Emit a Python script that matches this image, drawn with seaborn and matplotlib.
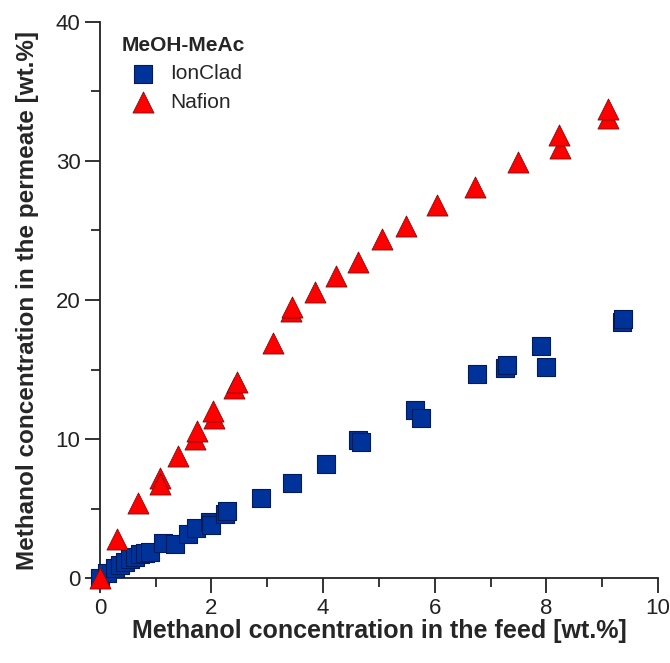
import matplotlib
matplotlib.use("Agg")
import matplotlib.pyplot as plt
from matplotlib.ticker import MultipleLocator
import pandas
import seaborn

# IonClad membrane, MeOH-MeAc
IONCLAD_FEED = [0.0, 0.12, 0.27, 0.36, 0.45, 0.54, 0.63, 0.72, 0.81, 0.9,
                1.13, 1.34, 1.58, 1.73, 1.97, 2.0, 2.25, 2.27, 2.88, 3.45,
                4.05, 4.62, 4.68, 5.64, 5.76, 6.75, 7.26, 7.29, 7.91, 8.0,
                9.36, 9.38]
IONCLAD_PERM = [0.0, 0.34, 0.7, 0.94, 1.18, 1.35, 1.54, 1.7, 1.82, 1.9,
                2.5, 2.45, 3.2, 3.57, 4.05, 3.8, 4.6, 4.8, 5.73, 6.86,
                8.2, 9.93, 9.8, 12.1, 11.5, 14.65, 15.1, 15.3, 16.7, 15.2,
                18.45, 18.6]

# Nafion membrane, MeOH-MeAc
NAFION_FEED = [0.0, 0.3, 0.69, 1.07, 1.08, 1.4, 1.7, 1.74, 2.05, 2.03,
               2.4, 2.45, 3.1, 3.42, 3.45, 3.85, 4.24, 4.63, 5.05, 5.48,
               6.05, 6.72, 7.5, 8.24, 8.23, 9.1, 9.1]
NAFION_PERM = [0.0, 2.85, 5.37, 7.2, 6.8, 8.8, 10.0, 10.6, 11.5, 12.0,
               13.7, 14.1, 16.9, 19.2, 19.5, 20.6, 21.7, 22.7, 24.4, 25.3,
               26.8, 28.1, 29.9, 30.9, 31.9, 33.1, 33.7]

PALETTE = {
    "IonClad": "#003399",
    "Nafion": "#ff0000",
}
EDGES = {
    "IonClad": "#001a5c",
    "Nafion": "#7a1010",
}
MARKERS = {
    "IonClad": "s",
    "Nafion": "^",
}

ion_df = pandas.DataFrame({"feed": IONCLAD_FEED, "perm": IONCLAD_PERM})
ion_df["membrane"] = "IonClad"
naf_df = pandas.DataFrame({"feed": NAFION_FEED, "perm": NAFION_PERM})
naf_df["membrane"] = "Nafion"

seaborn.set_style("ticks")
plt.rcParams["font.family"] = ["Liberation Sans", "DejaVu Sans"]

fig = plt.figure(figsize=(6.7, 6.63), dpi=100)
ax = fig.add_axes([0.149, 0.128, 0.833, 0.839])

seaborn.scatterplot(x="feed", y="perm", data=ion_df, marker=MARKERS["IonClad"],
                    color=PALETTE["IonClad"], edgecolor=EDGES["IonClad"],
                    linewidth=0.8, s=165, label="IonClad", ax=ax,
                    clip_on=False, zorder=3)
seaborn.scatterplot(x="feed", y="perm", data=naf_df, marker=MARKERS["Nafion"],
                    color=PALETTE["Nafion"], edgecolor=EDGES["Nafion"],
                    linewidth=0.6, s=230, label="Nafion", ax=ax,
                    clip_on=False, zorder=4)

ax.set_xlim(0, 10)
ax.set_ylim(0, 40)
ax.xaxis.set_major_locator(MultipleLocator(2))
ax.xaxis.set_minor_locator(MultipleLocator(1))
ax.yaxis.set_major_locator(MultipleLocator(10))
ax.yaxis.set_minor_locator(MultipleLocator(5))
ax.tick_params(which="major", direction="out", length=11, width=1.3,
               labelsize=16, colors="#222222", pad=3)
ax.tick_params(which="minor", direction="out", length=6.5, width=1.3)
for side in ["left", "bottom"]:
    ax.spines[side].set_linewidth(1.3)
    ax.spines[side].set_color("#222222")
seaborn.despine(ax=ax)

ax.set_xlabel("Methanol concentration in the feed [wt.%]", fontsize=18,
              fontweight="bold", labelpad=0)
ax.set_ylabel("Methanol concentration in the permeate [wt.%]", fontsize=17.5,
              fontweight="bold", labelpad=12)

leg = ax.legend(title="MeOH-MeAc", loc="upper left", bbox_to_anchor=(0.025, 0.99),
                frameon=False, fontsize=15, handletextpad=0.3, labelspacing=0.45,
                borderaxespad=0.0)
leg.get_title().set_fontweight("bold")
leg.get_title().set_fontsize(15)
leg._legend_box.align = "left"

plt.savefig("out.png", dpi=100)
